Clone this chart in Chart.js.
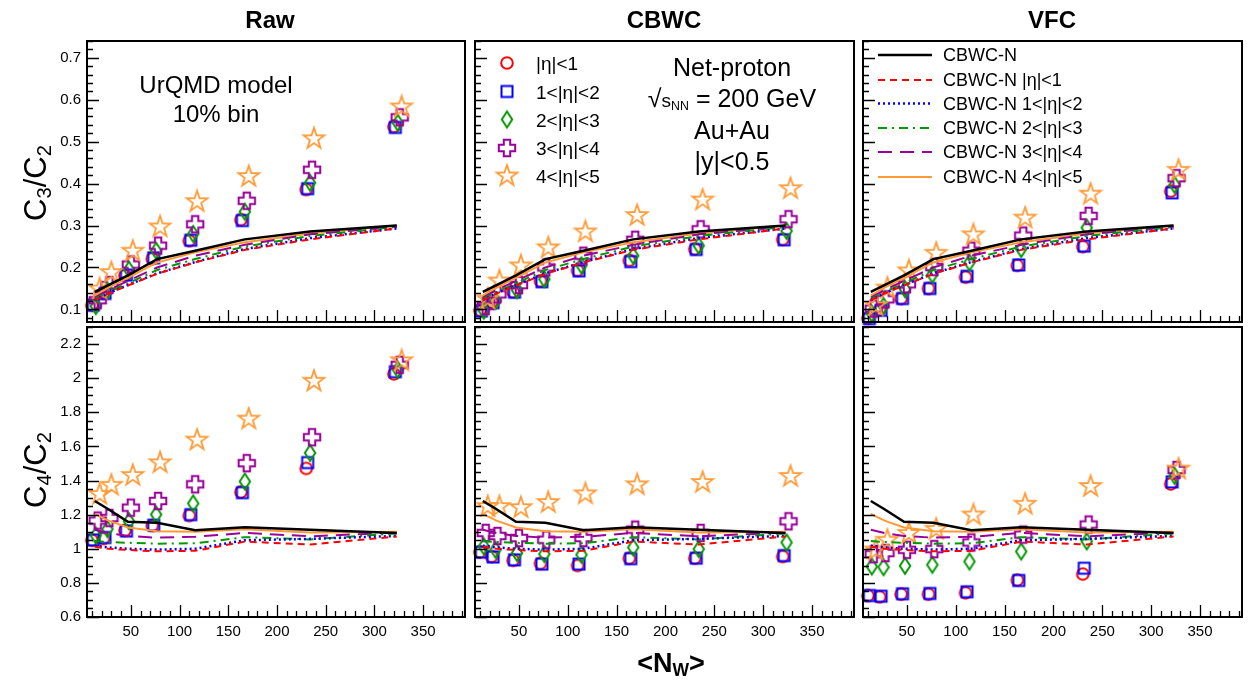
<!DOCTYPE html>
<html>
<head>
<meta charset="utf-8">
<title>Net-proton C3/C2 and C4/C2 vs Nw</title>
<script src="https://cdn.jsdelivr.net/npm/chart.js@4.4.1/dist/chart.umd.min.js"></script>
<style>
  body { margin: 0; background: #fff; }
  #page { position: relative; width: 1257px; height: 682px; overflow: hidden;
          font-family: "Liberation Sans", Arial, Helvetica, sans-serif; color: #000; }
  canvas { position: absolute; }
  .t { position: absolute; white-space: nowrap; transform: translate(-50%, -50%); line-height: 1; }
  .l { position: absolute; white-space: nowrap; transform: translateY(-50%); line-height: 1; }
  .head { font-size: 24px; font-weight: bold; }
  .info { font-size: 24px; }
  .info2 { font-size: 25px; }
  .leg { font-size: 19px; }
  .leg2 { font-size: 18px; }
  .ytitle { font-size: 31px; transform: translate(-50%, -50%) rotate(-90deg); }
  sub { font-size: 65%; vertical-align: -0.25em; line-height: 0; }
</style>
</head>
<body>
<div id="page">
  <canvas id="p00"></canvas>
  <canvas id="p01"></canvas>
  <canvas id="p02"></canvas>
  <canvas id="p10"></canvas>
  <canvas id="p11"></canvas>
  <canvas id="p12"></canvas>
  <canvas id="legendLayer" width="1257" height="682" style="left:0;top:0"></canvas>

  <div class="t head" style="left:270px;top:20px">Raw</div>
  <div class="t head" style="left:664px;top:20px">CBWC</div>
  <div class="t head" style="left:1052px;top:20px">VFC</div>

  <div class="t info" style="left:216px;top:85px">UrQMD model</div>
  <div class="t info" style="left:216px;top:114px">10% bin</div>

  <div class="t info2" style="left:732px;top:67px">Net-proton</div>
  <div class="t info2" style="left:732px;top:98px">√<span style="font-size:19px">s<sub>NN</sub></span> = 200 GeV</div>
  <div class="t info2" style="left:732px;top:130px">Au+Au</div>
  <div class="t info2" style="left:732px;top:161px">|y|&lt;0.5</div>

  <div class="t ytitle" style="left:35px;top:183px">C<sub>3</sub>/C<sub>2</sub></div>
  <div class="t ytitle" style="left:35px;top:470px">C<sub>4</sub>/C<sub>2</sub></div>
  <div class="t" style="left:671px;top:663px;font-size:27px;font-weight:bold">&lt;N<sub>W</sub>&gt;</div>
</div>

<script>
// x positions (<Nw>) of the centrality bins and the small shift used per eta window
const nw = [10, 22, 44, 72, 110, 163, 230, 320];
const etaShift = [0, 1.5, 4, 6, 8];
// x nodes of the CBWC-N reference curves
const nwLine = [13, 27, 47, 77, 116, 167, 234, 323];

const xTicks = [50, 100, 150, 200, 250, 300, 350];
const c32Ticks = [0.1, 0.2, 0.3, 0.4, 0.5, 0.6, 0.7];
const c42Ticks = [0.6, 0.8, 1, 1.2, 1.4, 1.6, 1.8, 2, 2.2];

const etaLabels = ['|η|<1', '1<|η|<2', '2<|η|<3', '3<|η|<4', '4<|η|<5'];
const lineLabels = ['CBWC-N', 'CBWC-N |η|<1', 'CBWC-N 1<|η|<2', 'CBWC-N 2<|η|<3',
                    'CBWC-N 3<|η|<4', 'CBWC-N 4<|η|<5'];

// C3/C2 -- one row per eta window (|η|<1 ... 4<|η|<5)
const rawC32 = [
  [0.110, 0.138, 0.181, 0.221, 0.264, 0.314, 0.386, 0.536],
  [0.110, 0.138, 0.182, 0.223, 0.265, 0.312, 0.388, 0.534],
  [0.108, 0.145, 0.195, 0.240, 0.280, 0.333, 0.402, 0.545],
  [0.122, 0.158, 0.207, 0.252, 0.303, 0.359, 0.433, 0.558],
  [0.150, 0.189, 0.240, 0.298, 0.358, 0.418, 0.508, 0.584]
];
const cbwcC32 = [
  [0.098, 0.118, 0.142, 0.168, 0.193, 0.217, 0.244, 0.267],
  [0.096, 0.116, 0.141, 0.166, 0.192, 0.214, 0.243, 0.266],
  [0.097, 0.120, 0.146, 0.172, 0.205, 0.228, 0.252, 0.287],
  [0.108, 0.136, 0.158, 0.200, 0.228, 0.266, 0.291, 0.315],
  [0.126, 0.169, 0.205, 0.248, 0.286, 0.325, 0.362, 0.389]
];
const vfcC32 = [
  [0.079, 0.099, 0.126, 0.150, 0.177, 0.205, 0.250, 0.382],
  [0.078, 0.098, 0.126, 0.150, 0.179, 0.206, 0.251, 0.378],
  [0.090, 0.108, 0.148, 0.183, 0.212, 0.244, 0.295, 0.397],
  [0.102, 0.124, 0.160, 0.201, 0.240, 0.276, 0.323, 0.413],
  [0.110, 0.152, 0.193, 0.235, 0.279, 0.319, 0.376, 0.433]
];

// C4/C2
const rawC42 = [
  [1.050, 1.060, 1.108, 1.136, 1.195, 1.333, 1.471, 2.025],
  [1.052, 1.066, 1.104, 1.138, 1.200, 1.329, 1.505, 2.038],
  [1.078, 1.115, 1.162, 1.201, 1.266, 1.394, 1.562, 2.050],
  [1.165, 1.180, 1.241, 1.280, 1.378, 1.502, 1.654, 2.078],
  [1.322, 1.375, 1.433, 1.507, 1.640, 1.763, 1.985, 2.105]
];
const cbwcC42 = [
  [0.982, 0.955, 0.932, 0.915, 0.902, 0.945, 0.945, 0.955],
  [0.980, 0.952, 0.935, 0.910, 0.910, 0.942, 0.945, 0.960],
  [1.014, 0.994, 0.975, 0.969, 0.965, 1.008, 0.998, 1.037],
  [1.093, 1.075, 1.063, 1.053, 1.063, 1.112, 1.093, 1.161],
  [1.250, 1.250, 1.244, 1.274, 1.325, 1.378, 1.392, 1.427]
];
const vfcC42 = [
  [0.726, 0.718, 0.734, 0.734, 0.742, 0.817, 0.852, 1.380],
  [0.726, 0.722, 0.736, 0.738, 0.748, 0.814, 0.886, 1.392],
  [0.896, 0.892, 0.900, 0.906, 0.925, 0.984, 1.043, 1.427],
  [0.968, 0.975, 0.994, 0.998, 1.037, 1.083, 1.142, 1.462],
  [0.996, 1.053, 1.093, 1.117, 1.201, 1.264, 1.368, 1.470]
];

// CBWC-N curves: all, |η|<1, 1<|η|<2, 2<|η|<3, 3<|η|<4, 4<|η|<5
const lineC32 = [
  [0.142, 0.158, 0.181, 0.220, 0.240, 0.267, 0.286, 0.300],
  [0.122, 0.138, 0.157, 0.185, 0.212, 0.242, 0.267, 0.293],
  [0.122, 0.139, 0.158, 0.186, 0.213, 0.244, 0.270, 0.293],
  [0.125, 0.142, 0.162, 0.194, 0.220, 0.250, 0.275, 0.297],
  [0.128, 0.146, 0.168, 0.200, 0.228, 0.254, 0.279, 0.297],
  [0.133, 0.152, 0.175, 0.212, 0.236, 0.260, 0.281, 0.300]
];
const lineC42 = [
  [1.280, 1.232, 1.158, 1.152, 1.108, 1.126, 1.112, 1.093],
  [1.012, 1.000, 0.993, 0.985, 0.988, 1.042, 1.025, 1.072],
  [1.018, 1.008, 1.000, 0.995, 1.000, 1.050, 1.058, 1.075],
  [1.045, 1.040, 1.035, 1.030, 1.032, 1.068, 1.055, 1.090],
  [1.112, 1.092, 1.075, 1.065, 1.070, 1.093, 1.073, 1.095],
  [1.205, 1.165, 1.125, 1.102, 1.100, 1.115, 1.095, 1.100]
];

Chart.defaults.font.family = '"Liberation Sans", Arial, sans-serif';
Chart.defaults.color = '#000';

const shapes = ['circle', 'square', 'diamond', 'cross', 'star'];
const markerColors = ['#ff0000', '#0000ff', '#009900', '#990099', '#ff9933'];
const lineColors = ['#000000', '#ff0000', '#0000ff', '#009900', '#990099', '#ff9933'];
const lineDash = [[], [7, 5], [2, 3], [9, 5, 2, 5], [14, 8], []];
const lineWidth = [2.5, 2, 2.5, 2, 2, 2];

// open ROOT-like markers drawn once on small canvases
function makeMarker(shape, color) {
  const c = document.createElement('canvas');
  c.width = 26; c.height = 26;
  const g = c.getContext('2d');
  const m = 13;
  g.strokeStyle = color;
  g.lineWidth = 2;
  g.beginPath();
  if (shape === 'circle') {
    g.arc(m, m, 5.8, 0, Math.PI * 2);
  } else if (shape === 'square') {
    g.rect(m - 5.5, m - 5.5, 11, 11);
  } else if (shape === 'diamond') {
    g.moveTo(m, m - 8); g.lineTo(m + 5.2, m); g.lineTo(m, m + 8); g.lineTo(m - 5.2, m); g.closePath();
  } else if (shape === 'cross') {
    const a = 3.2, b = 8.2;
    const p = [[-a,-b],[a,-b],[a,-a],[b,-a],[b,a],[a,a],[a,b],[-a,b],[-a,a],[-b,a],[-b,-a],[-a,-a]];
    p.forEach((q, i) => i ? g.lineTo(m + q[0], m + q[1]) : g.moveTo(m + q[0], m + q[1]));
    g.closePath();
  } else {
    g.lineWidth = 1.8;
    for (let k = 0; k < 10; k++) {
      const r = k % 2 ? 4.3 : 11;
      const ang = -Math.PI / 2 + k * Math.PI / 5;
      const px = m + r * Math.cos(ang), py = m + 0.5 + r * Math.sin(ang);
      k ? g.lineTo(px, py) : g.moveTo(px, py);
    }
    g.closePath();
  }
  g.stroke();
  return c;
}
const markers = shapes.map((s, i) => makeMarker(s, markerColors[i]));

// frame and inward tick marks, ROOT style
const frameTicks = {
  id: 'frameTicks',
  afterDraw(chart, args, o) {
    const { ctx, chartArea: a, scales: { x, y } } = chart;
    ctx.save();
    ctx.strokeStyle = '#000';
    ctx.lineWidth = 1.3;
    ctx.beginPath();
    for (let v = 10; v < x.max; v += 10) {
      const px = Math.round(x.getPixelForValue(v)) + 0.5;
      const len = v % 50 === 0 ? 12 : 6;
      ctx.moveTo(px, a.bottom);
      ctx.lineTo(px, a.bottom - len);
    }
    const k0 = Math.ceil(y.min / o.minor - 1e-6), k1 = Math.floor(y.max / o.minor + 1e-6);
    for (let k = k0; k <= k1; k++) {
      const py = Math.round(y.getPixelForValue(k * o.minor)) + 0.5;
      const len = k % o.major === 0 ? 12 : 6;
      ctx.moveTo(a.left, py);
      ctx.lineTo(a.left + len, py);
    }
    ctx.stroke();
    ctx.lineWidth = 2;
    ctx.strokeRect(a.left, a.top, a.right - a.left, a.bottom - a.top);
    ctx.restore();
  }
};

const cols = [
  { left: 0, width: 474, padL: 0, padR: 4 },
  { left: 466, width: 397, padL: 4, padR: 5 },
  { left: 854, width: 397, padL: 4, padR: 5 }
];
const rows = [
  { top: 30, height: 301, padT: 11, padB: 5, min: 0.07, max: 0.74, ticks: c32Ticks,
    minor: 0.02, major: 5, lines: lineC32, sets: [rawC32, cbwcC32, vfcC32] },
  { top: 316, height: 346, padT: 11, padB: 5, min: 0.6, max: 2.3, ticks: c42Ticks,
    minor: 0.05, major: 4, lines: lineC42, sets: [rawC42, cbwcC42, vfcC42] }
];

function panelDatasets(vals, lines) {
  const ds = [];
  vals.forEach((series, i) => {
    ds.push({
      data: series.map((v, j) => ({ x: nw[j] + etaShift[i], y: v })),
      pointStyle: markers[i],
      pointRadius: 8,
      showLine: false,
      clip: false,
      order: 20 - i
    });
  });
  lines.forEach((series, i) => {
    ds.push({
      data: series.map((v, j) => ({ x: nwLine[j], y: v })),
      showLine: true,
      borderColor: lineColors[i],
      borderWidth: lineWidth[i],
      borderDash: lineDash[i],
      pointRadius: 0,
      tension: 0,
      fill: false,
      order: i
    });
  });
  return ds;
}

rows.forEach((row, r) => {
  cols.forEach((col, c) => {
    const cv = document.getElementById('p' + r + c);
    cv.width = col.width; cv.height = row.height;
    cv.style.left = col.left + 'px'; cv.style.top = row.top + 'px';
    const showX = r === 1, showY = c === 0;
    new Chart(cv, {
      type: 'scatter',
      data: { datasets: panelDatasets(row.sets[c], row.lines) },
      options: {
        responsive: false,
        animation: false,
        devicePixelRatio: 1,
        events: [],
        layout: { padding: { left: col.padL, right: col.padR, top: row.padT, bottom: row.padB } },
        plugins: {
          legend: { display: false },
          tooltip: { enabled: false },
          frameTicks: { minor: row.minor, major: row.major }
        },
        scales: {
          x: {
            type: 'linear', min: 5, max: 393, display: showX,
            grid: { display: false, drawTicks: false },
            border: { display: false },
            ticks: { font: { size: 15 }, color: '#000', padding: 6, maxRotation: 0, autoSkip: false,
                     callback: v => String(v) },
            afterBuildTicks: s => { s.ticks = xTicks.map(v => ({ value: v })); },
            afterFit: s => { s.height = showX ? 40 : 0; s.paddingLeft = 0; s.paddingRight = 0; }
          },
          y: {
            type: 'linear', min: row.min, max: row.max, display: showY,
            grid: { display: false, drawTicks: false },
            border: { display: false },
            ticks: { font: { size: 15 }, color: '#000', padding: 6, autoSkip: false,
                     callback: v => String(+v.toFixed(2)) },
            afterBuildTicks: s => { s.ticks = row.ticks.map(v => ({ value: v })); },
            afterFit: s => { s.width = showY ? 87 : 0; s.paddingTop = 0; s.paddingBottom = 0; }
          }
        }
      },
      plugins: [frameTicks]
    });
  });
});

// legends: markers (CBWC panel) and line samples (VFC panel)
const page = document.getElementById('page');
function addText(txt, x, y, cls) {
  const d = document.createElement('div');
  d.className = cls;
  d.textContent = txt;
  d.style.left = x + 'px';
  d.style.top = y + 'px';
  page.appendChild(d);
}
const lg = document.getElementById('legendLayer').getContext('2d');
const etaLegendY = [63, 91.5, 119.5, 148, 175.5];
etaLegendY.forEach((py, i) => {
  lg.drawImage(markers[i], 507 - 13, py - 13);
  addText(etaLabels[i], 536, py, 'l leg');
});
const lineLegendY = [55, 80, 103.5, 128, 152, 177];
lineLegendY.forEach((py, i) => {
  lg.strokeStyle = lineColors[i];
  lg.lineWidth = lineWidth[i];
  lg.setLineDash(lineDash[i]);
  lg.beginPath();
  lg.moveTo(878, py);
  lg.lineTo(932, py);
  lg.stroke();
  addText(lineLabels[i], 943, py, 'l leg2');
});
</script>
</body>
</html>
